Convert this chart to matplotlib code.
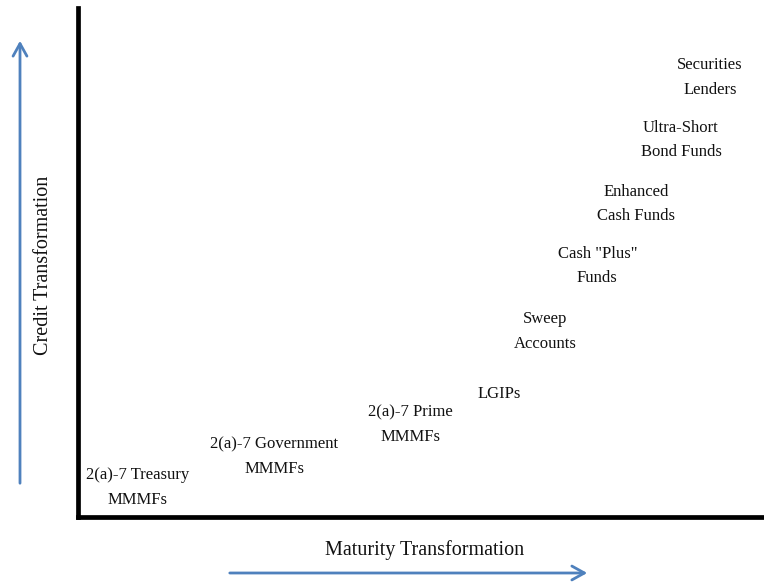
import matplotlib
matplotlib.use("Agg")
import matplotlib.pyplot as plt

labels = [
    "2(a)-7 Treasury\nMMMFs",
    "2(a)-7 Government\nMMMFs",
    "2(a)-7 Prime\nMMMFs",
    "LGIPs",
    "Sweep\nAccounts",
    "Cash \"Plus\"\nFunds",
    "Enhanced\nCash Funds",
    "Ultra-Short\nBond Funds",
    "Securities\nLenders",
]
maturity = [8.7, 28.6, 48.4, 61.4, 68.1, 75.7, 81.3, 87.9, 92.1]
credit = [5.8, 11.8, 18.1, 24.2, 36.5, 49.3, 61.5, 74.1, 86.4]

plt.rcParams['font.family'] = ['Liberation Serif', 'DejaVu Serif']

fig = plt.figure(figsize=(7.64, 5.84), dpi=100)
ax = fig.add_axes([78/764, 67/584, 686/764, 509/584])
ax.set_xlim(0, 100)
ax.set_ylim(0, 100)
ax.set_xticks([])
ax.set_yticks([])
for s in ['top', 'right']:
    ax.spines[s].set_visible(False)
for s in ['left', 'bottom']:
    ax.spines[s].set_linewidth(3.4)
    ax.spines[s].set_color('black')

for lab, x, y in zip(labels, maturity, credit):
    ax.text(x, y, lab, ha='center', va='center', fontsize=12,
            linespacing=1.72, color='#111111')

fig.text(425/764, 1 - 550/584, "Maturity Transformation", ha='center', va='center',
         fontsize=14.5, color='#111111')
fig.text(44/764, 1 - 265/584, "Credit Transformation", ha='center', va='center',
         rotation=90, fontsize=14.5, color='#111111')

arrow_color = '#4F81BD'
fig.patches.append(matplotlib.patches.FancyArrowPatch(
    (20/764, 1 - 486/584), (20/764, 1 - 38/584), transform=fig.transFigure,
    arrowstyle='->,head_length=9,head_width=5', color=arrow_color, lw=2,
    mutation_scale=1))
fig.patches.append(matplotlib.patches.FancyArrowPatch(
    (227/764, 1 - 573/584), (590/764, 1 - 573/584), transform=fig.transFigure,
    arrowstyle='->,head_length=9,head_width=5', color=arrow_color, lw=2,
    mutation_scale=1))

fig.savefig("out.png", dpi=100)
